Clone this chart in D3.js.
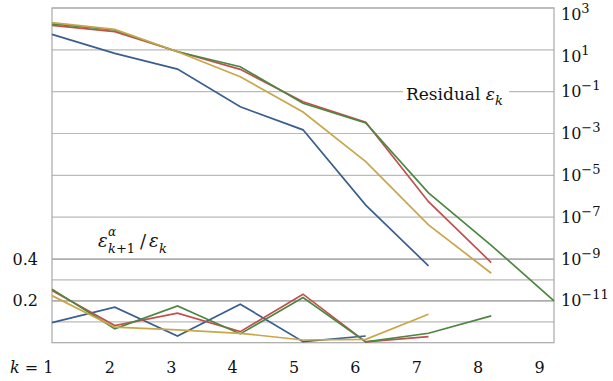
<!DOCTYPE html>
<html>
<head>
<meta charset="utf-8">
<script src="https://cdn.jsdelivr.net/npm/d3@7"></script>
<style>
  body { margin: 0; background: #fff; }
  svg text { fill: #111; }
</style>
</head>
<body>
<div id="viz"></div>
<script>
// iteration index k
var ks = [1, 2, 3, 4, 5, 6, 7, 8, 9];

// residual eps_k (right log axis)
var resBlue = [55, 6.8, 1.2, 0.019, 0.0015, 3.8e-7, 4.7e-10];
var resRed = [148, 74, 8.3, 1.17, 0.033, 0.0035, 5.5e-7, 6.8e-10];
var resGreen = [174, 89, 8.1, 1.55, 0.028, 0.0032, 1.45e-6, 4.5e-9, 1e-11];
var resGold = [200, 95, 8.1, 0.52, 0.0107, 4.5e-5, 4.3e-8, 2.1e-10];

// ratio eps_{k+1}^alpha / eps_k (left linear axis)
var ratioBlue = [0.096, 0.17, 0.032, 0.184, 0.005, 0.032];
var ratioRed = [0.25, 0.082, 0.141, 0.053, 0.232, 0.004, 0.029];
var ratioGreen = [0.256, 0.067, 0.176, 0.042, 0.216, 0.004, 0.045, 0.128];
var ratioGold = [0.225, 0.074, 0.061, 0.045, 0.013, 0.016, 0.136];

// tick values
var rightTicks = [3, 1, -1, -3, -5, -7, -9, -11];
var leftGrid = [0.1, 0.2, 0.3, 0.4];
var leftLabels = [0.2, 0.4];

var colors = ["#3a5f8e", "#c0504d", "#4c8641", "#c9a64a"];

var width = 613, height = 381;
var plot = { left: 52, right: 554, top: 8, bottom: 342.7 };

var svg = d3.select("#viz").append("svg")
  .attr("width", width)
  .attr("height", height)
  .style("font-family", "'DejaVu Serif', serif");

var xScale = d3.scaleLinear().domain([1, 9]).range([plot.left, plot.right]);
// tick labels sit on a slightly tighter spacing than the data points
var xLabel = d3.scaleLinear().domain([1, 9]).range([48.5, 539.5]);
var yRes = d3.scaleLog().domain([1e-13, 1e3]).range([plot.bottom, plot.top]);
var yRatio = d3.scaleLinear().domain([0, 0.4]).range([plot.bottom, yRes(1e-9)]);

// grid lines
var grid = svg.append("g")
  .attr("stroke", "#8a8a8a")
  .attr("stroke-opacity", 0.6)
  .attr("stroke-width", 1.2);

grid.selectAll(".gr")
  .data(rightTicks)
  .enter().append("line")
  .attr("x1", plot.left).attr("x2", plot.right)
  .attr("y1", function (d) { return yRes(Math.pow(10, d)); })
  .attr("y2", function (d) { return yRes(Math.pow(10, d)); });

grid.selectAll(".gl")
  .data(leftGrid)
  .enter().append("line")
  .attr("x1", plot.left).attr("x2", plot.right)
  .attr("y1", function (d) { return yRatio(d); })
  .attr("y2", function (d) { return yRatio(d); });

// frame
svg.append("rect")
  .attr("x", plot.left).attr("y", plot.top)
  .attr("width", plot.right - plot.left)
  .attr("height", plot.bottom - plot.top)
  .attr("fill", "none")
  .attr("stroke", "#a8a8a8")
  .attr("stroke-width", 1.2);

// lines
var resLine = d3.line()
  .x(function (d, i) { return xScale(ks[i]); })
  .y(function (d) { return yRes(d); });

var ratioLine = d3.line()
  .x(function (d, i) { return xScale(ks[i]); })
  .y(function (d) { return yRatio(d); });

[ratioBlue, ratioRed, ratioGreen, ratioGold].forEach(function (s, i) {
  svg.append("path")
    .attr("d", ratioLine(s))
    .attr("fill", "none")
    .attr("stroke", colors[i])
    .attr("stroke-width", 1.7);
});

[resBlue, resRed, resGreen, resGold].forEach(function (s, i) {
  svg.append("path")
    .attr("d", resLine(s))
    .attr("fill", "none")
    .attr("stroke", colors[i])
    .attr("stroke-width", 1.7);
});

// right axis labels 10^n
var rlab = svg.selectAll(".rlab")
  .data(rightTicks)
  .enter().append("text")
  .attr("x", 561)
  .attr("y", function (d) { return yRes(Math.pow(10, d)) + (d > 0 ? 12 : 5.5); })
  .style("font-size", "16px");
rlab.append("tspan").text("10");
rlab.append("tspan")
  .attr("dy", -7)
  .style("font-size", "13px")
  .text(function (d) { return d < 0 ? "\u2212" + (-d) : d; });

// left axis labels
svg.selectAll(".llab")
  .data(leftLabels)
  .enter().append("text")
  .attr("x", 38)
  .attr("y", function (d) { return yRatio(d) + 5.5; })
  .attr("text-anchor", "end")
  .style("font-size", "16px")
  .text(function (d) { return d.toFixed(1); });

// bottom labels
svg.selectAll(".xlab")
  .data(ks.slice(1))
  .enter().append("text")
  .attr("x", function (d) { return xLabel(d); })
  .attr("y", 373)
  .attr("text-anchor", "middle")
  .style("font-size", "16px")
  .text(function (d) { return d; });

var k1 = svg.append("text")
  .attr("x", xLabel(1) + 5)
  .attr("y", 373)
  .attr("text-anchor", "end")
  .style("font-size", "16px");
k1.append("tspan").style("font-style", "italic").text("k");
k1.append("tspan").text(" = 1");

// residual annotation
svg.append("rect")
  .attr("x", 403).attr("y", 84)
  .attr("width", 106).attr("height", 20)
  .attr("fill", "#fff");
var resText = svg.append("text")
  .attr("x", 406)
  .attr("y", yRes(1e-1) + 8.5)
  .style("font-size", "17px");
resText.append("tspan").text("Residual ");
resText.append("tspan").style("font-style", "italic").text("\u03b5");
resText.append("tspan")
  .attr("dy", 5).style("font-size", "13px").style("font-style", "italic").text("k");

// ratio annotation
var ratText = svg.append("g");
ratText.append("text")
  .attr("x", 98).attr("y", 247)
  .style("font-size", "18px").style("font-style", "italic")
  .text("\u03b5");
ratText.append("text")
  .attr("x", 108).attr("y", 236)
  .style("font-size", "12px").style("font-style", "italic")
  .text("\u03b1");
var sub = ratText.append("text")
  .attr("x", 108).attr("y", 253)
  .style("font-size", "13px");
sub.append("tspan").style("font-style", "italic").text("k");
sub.append("tspan").text("+1");
ratText.append("text")
  .attr("x", 140).attr("y", 248)
  .style("font-size", "18px")
  .text("/");
ratText.append("text")
  .attr("x", 149).attr("y", 247)
  .style("font-size", "18px").style("font-style", "italic")
  .text("\u03b5");
ratText.append("text")
  .attr("x", 159).attr("y", 253)
  .style("font-size", "13px").style("font-style", "italic")
  .text("k");
</script>
</body>
</html>
